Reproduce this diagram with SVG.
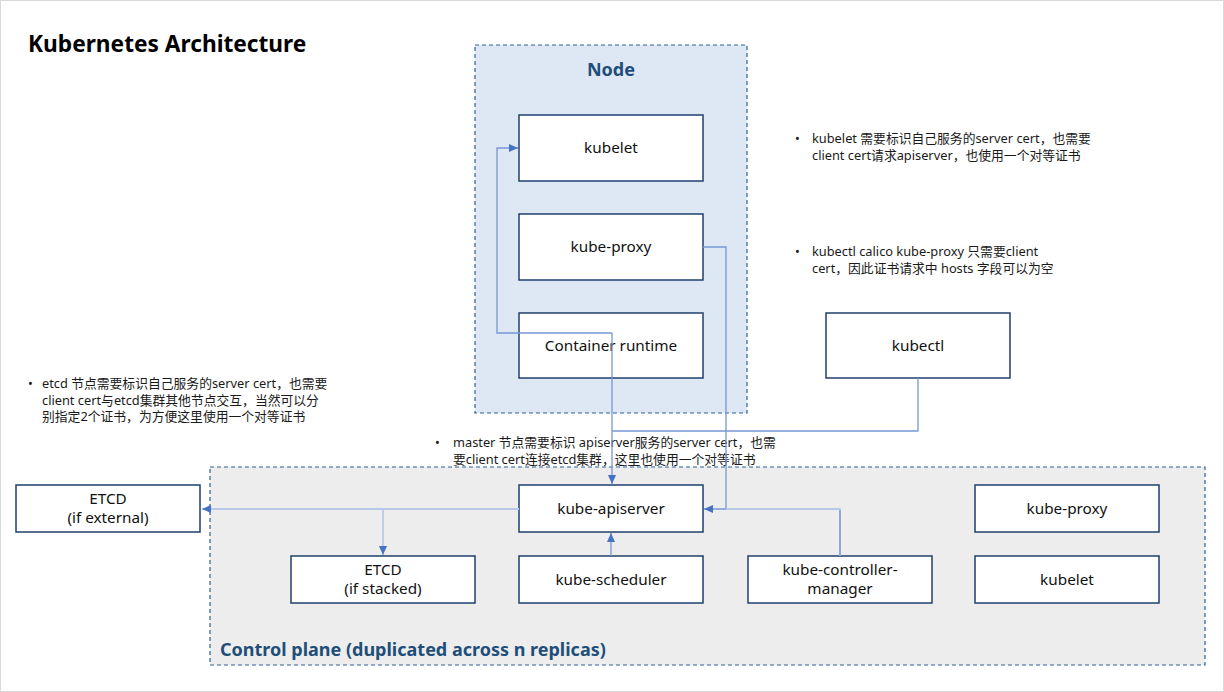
<svg xmlns="http://www.w3.org/2000/svg" width="1224" height="692" viewBox="0 0 1224 692">
<defs>
<marker id="arr" markerUnits="userSpaceOnUse" markerWidth="9" markerHeight="8" refX="9" refY="4" orient="auto">
<path d="M0,0 L9,4 L0,8 z" fill="#4472c4"/>
</marker>
<style>
.box{fill:#ffffff;stroke:#1f3f6b;stroke-width:1.5}
.lbl{font-family:"Noto Sans","Open Sans","DejaVu Sans",sans-serif;font-size:15.3px;fill:#111;text-anchor:middle}
.note{font-family:"Noto Sans","Noto Sans CJK SC",sans-serif;font-size:12.8px;fill:#1a1a1a}
.hd{font-family:"Noto Sans","Open Sans",sans-serif;font-weight:bold;fill:#1f4e79;font-size:18px}
.ln{fill:none;stroke:#7896d6;stroke-width:1.3}
.lt{fill:none;stroke:#b8c9e8;stroke-width:1.8}
</style>
</defs>
<rect x="0.5" y="0.5" width="1223" height="691" fill="#ffffff" stroke="#d9d9d9"/>
<text x="28" y="52" font-family="Noto Sans,Open Sans,sans-serif" font-weight="bold" font-size="22.7" fill="#000">Kubernetes Architecture</text>

<g id="node-group">
<rect x="475" y="45" width="272" height="368" fill="#dee8f5" stroke="#2e6099" stroke-width="1.2" stroke-dasharray="4 3"/>
<text class="hd" x="611" y="76" text-anchor="middle">Node</text>
</g>
<g id="control-plane">
<rect x="210" y="467" width="995" height="198" fill="#ededed" stroke="#2e6099" stroke-width="1.2" stroke-dasharray="4 3"/>
<text class="hd" x="220" y="656">Control plane (duplicated across n replicas)</text>
</g>

<g id="notes">
<text class="note" x="795" y="143">•</text>
<text class="note" x="812" y="143">kubelet 需要标识自己服务的server cert，也需要</text>
<text class="note" x="812" y="160">client cert请求apiserver，也使用一个对等证书</text>
<text class="note" x="795" y="256">•</text>
<text class="note" x="812" y="256">kubectl calico kube-proxy 只需要client</text>
<text class="note" x="812" y="273">cert，因此证书请求中 hosts 字段可以为空</text>
<text class="note" x="28" y="388">•</text>
<text class="note" x="42" y="388">etcd 节点需要标识自己服务的server cert，也需要</text>
<text class="note" x="42" y="405">client cert与etcd集群其他节点交互，当然可以分</text>
<text class="note" x="42" y="421">别指定2个证书，为方便这里使用一个对等证书</text>
<text class="note" x="435" y="447">•</text>
<text class="note" x="453" y="447">master 节点需要标识 apiserver服务的server cert，也需</text>
<text class="note" x="453" y="464">要client cert连接etcd集群，这里也使用一个对等证书</text>
</g>

<g id="kubelet"><rect class="box" x="519" y="115" width="184" height="66"/><text class="lbl" x="611" y="153">kubelet</text></g>
<g id="kube-proxy"><rect class="box" x="519" y="214" width="184" height="66"/><text class="lbl" x="611" y="252">kube-proxy</text></g>
<g id="container-runtime"><rect class="box" x="519" y="313" width="184" height="65"/><text class="lbl" x="611" y="351">Container runtime</text></g>
<g id="kubectl"><rect class="box" x="826" y="313" width="184" height="65"/><text class="lbl" x="918" y="351">kubectl</text></g>
<g id="etcd-external"><rect class="box" x="16" y="485" width="184" height="47"/><text class="lbl" x="108" y="504">ETCD</text><text class="lbl" x="108" y="523">(if external)</text></g>
<g id="kube-apiserver"><rect class="box" x="519" y="485" width="184" height="47"/><text class="lbl" x="611" y="514">kube-apiserver</text></g>
<g id="kube-proxy-cp"><rect class="box" x="975" y="485" width="184" height="47"/><text class="lbl" x="1067" y="514">kube-proxy</text></g>
<g id="etcd-stacked"><rect class="box" x="291" y="556" width="184" height="47"/><text class="lbl" x="383" y="575">ETCD</text><text class="lbl" x="383" y="594">(if stacked)</text></g>
<g id="kube-scheduler"><rect class="box" x="519" y="556" width="184" height="47"/><text class="lbl" x="611" y="585">kube-scheduler</text></g>
<g id="kube-controller-manager"><rect class="box" x="748" y="556" width="184" height="47"/><text class="lbl" x="840" y="575">kube-controller-</text><text class="lbl" x="840" y="594">manager</text></g>
<g id="kubelet-cp"><rect class="box" x="975" y="556" width="184" height="47"/><text class="lbl" x="1067" y="585">kubelet</text></g>

<g id="connectors">
<path class="ln" d="M612,333 H497 V148 H518" marker-end="url(#arr)"/>
<path class="ln" d="M612,333 V484" marker-end="url(#arr)"/>
<path class="ln" d="M918,378 V431 H612"/>
<path class="ln" d="M703,247 H726 V509 H704" marker-end="url(#arr)"/>
<path class="lt" d="M840,556 V509 H726"/>
<path class="ln" d="M840,556 V510"/>
<path class="lt" d="M519,509 H202" marker-end="url(#arr)"/>
<path class="lt" d="M383,509 V555" marker-end="url(#arr)"/>
<path class="ln" d="M611,556 V533" marker-end="url(#arr)"/>
</g>
</svg>
